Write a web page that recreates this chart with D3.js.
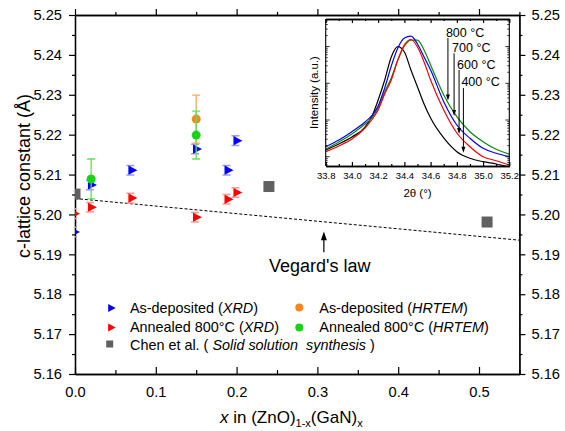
<!DOCTYPE html>
<html>
<head>
<meta charset="utf-8">
<script src="https://cdn.jsdelivr.net/npm/d3@7"></script>
<style>
  body { margin: 0; background: #fff; }
  svg text { font-family: "Liberation Sans", Arial, sans-serif; }
</style>
</head>
<body>
<svg id="chart" width="565" height="431"></svg>
<script>
// --- main panel data: x in (ZnO)1-x(GaN)x vs c-lattice constant (Å)
const asDepXrdX = [0, 0.021, 0.071, 0.151, 0.19, 0.201];
const asDepXrdC = [5.1956, 5.2074, 5.2111, 5.2164, 5.2111, 5.2185];
const annXrdX = [0, 0.021, 0.071, 0.151, 0.19, 0.201];
const annXrdC = [5.2002, 5.2018, 5.2041, 5.1993, 5.2038, 5.2055];
const xrdErr = 0.0012;

const asDepTemX = [0.15];
const asDepTemC = [5.2239];
const asDepTemErr = [0.006];
const annTemX = [0.02, 0.15];
const annTemC = [5.2089, 5.2199];
const annTemErr = [0.005, 0.006];

const chenX = [0, 0.24, 0.51];
const chenC = [5.2051, 5.2070, 5.1981];

const vegardX = [0, 1];
const vegardC = [5.204, 5.185];

const xMajor = [0, 0.1, 0.2, 0.3, 0.4, 0.5];
const xMinor = [0.05, 0.15, 0.25, 0.35, 0.45, 0.55];
const yMajor = [5.16, 5.17, 5.18, 5.19, 5.20, 5.21, 5.22, 5.23, 5.24, 5.25];
const yMinor = [5.165, 5.175, 5.185, 5.195, 5.205, 5.215, 5.225, 5.235, 5.245];

// --- inset data: 2θ (°) vs intensity (a.u., log)
const twoTheta = [33.8, 33.9, 34.0, 34.1, 34.15, 34.2, 34.25, 34.3, 34.35, 34.4,
                  34.45, 34.5, 34.55, 34.6, 34.7, 34.8, 34.9, 35.0, 35.1, 35.2];
const int400 = [15.2, 22.2, 34.4, 64.4, 121, 351, 1230, 5210, 9930, 7130,
                2300, 793, 273, 113, 32.4, 13.7, 9.04, 7.31, 6.32, 5.24];
const int600 = [13.7, 19.6, 30.3, 60.5, 100, 187, 511, 1230, 4310, 11100,
                15600, 9750, 3810, 1230, 187, 44.3, 18.7, 10, 7.78, 5.94];
const int700 = [18.7, 28.5, 48.0, 88.3, 129, 241, 745, 2960, 9160, 17100,
                19400, 11800, 5210, 2300, 315, 73.1, 31.7, 16.9, 12.4, 10];
const int800 = [16.2, 25.2, 41.6, 77.8, 113, 212, 579, 1390, 4310, 10400,
                15100, 15100, 8070, 3150, 480, 123, 48.0, 25.7, 15.9, 11.8];
const insetTicks = [33.8, 34.0, 34.2, 34.4, 34.6, 34.8, 35.0, 35.2];
const insetMinor = [33.9, 34.1, 34.3, 34.5, 34.7, 34.9, 35.1];

// annotation arrows: label, 2θ, start intensity, tip intensity
const annLabels = ['800 °C', '700 °C', '600 °C', '400 °C'];
const annTheta = [34.732, 34.779, 34.817, 34.850];
const annStart = [17100, 6560, 2300, 745];
const annTip = [340, 129, 41.6, 12.9];

const svg = d3.select('#chart');
const FONT = 14.7;

const x = d3.scaleLinear().domain([0, 0.55]).range([75, 519.4]);
const y = d3.scaleLinear().domain([5.16, 5.25]).range([374, 15]);

svg.append('defs').append('clipPath').attr('id', 'plotClip')
  .append('rect')
  .attr('x', x(0)).attr('y', y(5.25))
  .attr('width', x(0.55) - x(0)).attr('height', y(5.16) - y(5.25));

const styleAxis = (g, size) => {
  g.attr('font-family', null).attr('font-size', null);
  g.selectAll('text').attr('font-size', size).attr('fill', '#000');
  g.selectAll('line').attr('stroke', '#000').attr('stroke-width', 1.2);
  g.select('.domain').attr('stroke', '#000').attr('stroke-width', 1.3);
};

// axes
svg.append('g').attr('transform', `translate(0,${y(5.16)})`)
  .call(d3.axisBottom(x).tickValues(xMajor).tickSize(-7).tickSizeOuter(0).tickPadding(13).tickFormat(d3.format('.1f')))
  .call(g => styleAxis(g, FONT));
svg.append('g').attr('transform', `translate(0,${y(5.16)})`)
  .call(d3.axisBottom(x).tickValues(xMinor).tickSize(-4).tickSizeOuter(0).tickFormat(''))
  .call(g => styleAxis(g, FONT));
svg.append('g').attr('transform', `translate(0,${y(5.25)})`)
  .call(d3.axisTop(x).tickValues(xMajor).tickSize(6).tickSizeOuter(0).tickFormat(''))
  .call(g => styleAxis(g, FONT));
svg.append('g').attr('transform', `translate(0,${y(5.25)})`)
  .call(d3.axisTop(x).tickValues(xMinor).tickSize(3).tickSizeOuter(0).tickFormat(''))
  .call(g => styleAxis(g, FONT));
svg.append('g').attr('transform', `translate(${x(0)},0)`)
  .call(d3.axisLeft(y).tickValues(yMajor).tickSize(6).tickSizeOuter(0).tickPadding(7).tickFormat(d3.format('.2f')))
  .call(g => styleAxis(g, FONT));
svg.append('g').attr('transform', `translate(${x(0)},0)`)
  .call(d3.axisLeft(y).tickValues(yMinor).tickSize(3).tickSizeOuter(0).tickFormat(''))
  .call(g => styleAxis(g, FONT));
svg.append('g').attr('transform', `translate(${x(0.55)},0)`)
  .call(d3.axisRight(y).tickValues(yMajor).tickSize(6).tickSizeOuter(0).tickPadding(6).tickFormat(d3.format('.2f')))
  .call(g => styleAxis(g, FONT));
svg.append('g').attr('transform', `translate(${x(0.55)},0)`)
  .call(d3.axisRight(y).tickValues(yMinor).tickSize(3).tickSizeOuter(0).tickFormat(''))
  .call(g => styleAxis(g, FONT));

// axis titles
svg.append('text')
  .attr('transform', 'translate(30,176) rotate(-90)')
  .attr('text-anchor', 'middle')
  .attr('font-size', 18)
  .text('c-lattice constant (Å)');

const xt = svg.append('text').attr('x', 220).attr('y', 423).attr('font-size', 17);
xt.append('tspan').attr('font-style', 'italic').text('x');
xt.append('tspan').text(' in (ZnO)');
xt.append('tspan').attr('font-size', 11).attr('dy', 4).text('1-x');
xt.append('tspan').attr('dy', -4).text('(GaN)');
xt.append('tspan').attr('font-size', 11).attr('dy', 4).text('x');

// plot layer
const plot = svg.append('g').attr('clip-path', 'url(#plotClip)');

// Vegard's law line
plot.append('path')
  .datum(vegardX.map((v, i) => [v, vegardC[i]]))
  .attr('d', d3.line().x(d => x(d[0])).y(d => y(d[1])))
  .attr('fill', 'none')
  .attr('stroke', '#000')
  .attr('stroke-width', 1)
  .attr('stroke-dasharray', '3,2');

// Chen et al. squares
plot.selectAll('.chen')
  .data(chenX.map((v, i) => [v, chenC[i]]))
  .join('rect')
  .attr('x', d => x(d[0]) - 5.5).attr('y', d => y(d[1]) - 5.5)
  .attr('width', 11).attr('height', 11)
  .attr('fill', '#606060');

// XRD triangles with small error bars
const tri = 'M-4,-4.6L-4,4.6L5,0Z';
const drawXrd = (xs, cs, color, light) => {
  const pts = xs.map((v, i) => [v, cs[i]]);
  const eb = plot.append('g');
  pts.forEach(d => {
    const cx = x(d[0]) - 2;
    eb.append('line').attr('x1', cx).attr('x2', cx)
      .attr('y1', y(d[1] - xrdErr)).attr('y2', y(d[1] + xrdErr))
      .attr('stroke', light).attr('stroke-width', 1.5);
    [d[1] - xrdErr, d[1] + xrdErr].forEach(e => {
      eb.append('line').attr('x1', cx - 4).attr('x2', cx + 4)
        .attr('y1', y(e)).attr('y2', y(e))
        .attr('stroke', light).attr('stroke-width', 1.5);
    });
  });
  plot.append('g').selectAll('path')
    .data(pts)
    .join('path')
    .attr('d', tri)
    .attr('transform', d => `translate(${x(d[0])},${y(d[1])})`)
    .attr('fill', color);
};
drawXrd(asDepXrdX, asDepXrdC, '#0000ff', '#9a9aff');
drawXrd(annXrdX, annXrdC, '#ff0000', '#ff9a9a');

// HRTEM circles with error bars
const drawTem = (xs, cs, errs, color, light) => {
  xs.forEach((v, i) => {
    const cx = x(v);
    plot.append('line').attr('x1', cx).attr('x2', cx)
      .attr('y1', y(cs[i] - errs[i])).attr('y2', y(cs[i] + errs[i]))
      .attr('stroke', light).attr('stroke-width', 1.3);
    [cs[i] - errs[i], cs[i] + errs[i]].forEach(e => {
      plot.append('line').attr('x1', cx - 4).attr('x2', cx + 4)
        .attr('y1', y(e)).attr('y2', y(e))
        .attr('stroke', light).attr('stroke-width', 1.3);
    });
  });
  plot.append('g').selectAll('circle')
    .data(xs.map((v, i) => [v, cs[i]]))
    .join('circle')
    .attr('cx', d => x(d[0])).attr('cy', d => y(d[1]))
    .attr('r', 4.5)
    .attr('fill', color);
};
drawTem(asDepTemX, asDepTemC, asDepTemErr, '#f7861c', '#f6a95c');
drawTem(annTemX, annTemC, annTemErr, '#18d418', '#5ee05e');

// Vegard's law arrow + label
const arrX = 0.308;
svg.append('line')
  .attr('x1', x(arrX)).attr('x2', x(arrX))
  .attr('y1', y(5.1905)).attr('y2', y(5.1945))
  .attr('stroke', '#000').attr('stroke-width', 1.2);
svg.append('path')
  .attr('d', `M${x(arrX)},${y(5.1957)}L${x(arrX) - 3},${y(5.1935)}L${x(arrX) + 3},${y(5.1935)}Z`)
  .attr('fill', '#000');
svg.append('text')
  .attr('x', x(0.303)).attr('y', y(5.1856))
  .attr('text-anchor', 'middle')
  .attr('font-size', 18)
  .text("Vegard's law");

// legend
const legend = svg.append('g').attr('font-size', 14.4);
const legendRows = [
  { mx: 111.7, my: 308, tx: 130, ty: 312.5, shape: 'tri', color: '#0000ff', parts: ['As-deposited (', 'XRD', ')'] },
  { mx: 111.7, my: 327.5, tx: 130, ty: 332, shape: 'tri', color: '#ff0000', parts: ['Annealed 800°C (', 'XRD', ')'] },
  { mx: 109.7, my: 344, tx: 130, ty: 349.5, shape: 'sq', color: '#606060', parts: ['Chen et al. ( ', 'Solid solution  synthesis', ' )'] },
  { mx: 299.3, my: 307.5, tx: 319.3, ty: 312.5, shape: 'circ', color: '#f7861c', parts: ['As-deposited (', 'HRTEM', ')'] },
  { mx: 299.3, my: 327.5, tx: 319.3, ty: 332, shape: 'circ', color: '#18d418', parts: ['Annealed 800°C (', 'HRTEM', ')'] }
];
legendRows.forEach(r => {
  if (r.shape === 'tri') {
    legend.append('path').attr('d', 'M-3.5,-4L-3.5,4L4,0Z')
      .attr('transform', `translate(${r.mx},${r.my})`).attr('fill', r.color);
  } else if (r.shape === 'sq') {
    legend.append('rect').attr('x', r.mx - 3.5).attr('y', r.my - 3.5)
      .attr('width', 7).attr('height', 7).attr('fill', r.color);
  } else {
    legend.append('circle').attr('cx', r.mx).attr('cy', r.my).attr('r', 4).attr('fill', r.color);
  }
  const t = legend.append('text').attr('x', r.tx).attr('y', r.ty).style('white-space', 'pre');
  t.append('tspan').text(r.parts[0]);
  t.append('tspan').attr('font-style', 'italic').text(r.parts[1]);
  t.append('tspan').text(r.parts[2]);
});

// ---------------- inset ----------------
const ix = d3.scaleLinear().domain([33.8, 35.2]).range([325.7, 509.3]);
const iy = d3.scaleLog().domain([5.58, 56500]).range([166, 19]);
const inset = svg.append('g');

inset.append('rect')
  .attr('x', ix(33.8)).attr('y', iy(56500))
  .attr('width', ix(35.2) - ix(33.8)).attr('height', iy(5.58) - iy(56500))
  .attr('fill', '#fff');

svg.select('defs').append('clipPath').attr('id', 'insetClip')
  .append('rect')
  .attr('x', ix(33.8)).attr('y', iy(56500))
  .attr('width', ix(35.2) - ix(33.8)).attr('height', iy(5.58) - iy(56500));

const curves = [
  { vals: int400, color: '#000000' },
  { vals: int800, color: '#0a8a0a' },
  { vals: int700, color: '#0000ff' },
  { vals: int600, color: '#ff0000' }
];
const line = d3.line().x(d => ix(d[0])).y(d => iy(d[1])).curve(d3.curveMonotoneX);
const curveG = inset.append('g').attr('clip-path', 'url(#insetClip)');
curves.forEach(c => {
  curveG.append('path')
    .datum(twoTheta.map((t, i) => [t, c.vals[i]]))
    .attr('d', line)
    .attr('fill', 'none')
    .attr('stroke', c.color)
    .attr('stroke-width', 1.2);
});

const styleInset = g => styleAxis(g, 9.5);
inset.append('g').attr('transform', `translate(0,${iy(5.58)})`)
  .call(d3.axisBottom(ix).tickValues(insetTicks).tickSize(-4).tickSizeOuter(0).tickPadding(6).tickFormat(d3.format('.1f')))
  .call(styleInset);
inset.append('g').attr('transform', `translate(0,${iy(5.58)})`)
  .call(d3.axisBottom(ix).tickValues(insetMinor).tickSize(-2).tickSizeOuter(0).tickFormat(''))
  .call(styleInset);
inset.append('g').attr('transform', `translate(0,${iy(56500)})`)
  .call(d3.axisTop(ix).tickValues(insetTicks).tickSize(-4).tickSizeOuter(0).tickFormat(''))
  .call(styleInset);
inset.append('g').attr('transform', `translate(0,${iy(56500)})`)
  .call(d3.axisTop(ix).tickValues(insetMinor).tickSize(-2).tickSizeOuter(0).tickFormat(''))
  .call(styleInset);

const logTicks = iy.ticks();
const isDecade = v => Math.abs(Math.log10(v) - Math.round(Math.log10(v))) < 1e-6;
[ix(33.8), ix(35.2)].forEach((ax, k) => {
  const dir = k === 0 ? 1 : -1;
  inset.append('g').selectAll('line')
    .data(logTicks)
    .join('line')
    .attr('x1', ax).attr('x2', d => ax + dir * (isDecade(d) ? 4 : 2))
    .attr('y1', d => iy(d)).attr('y2', d => iy(d))
    .attr('stroke', '#000').attr('stroke-width', 0.8);
  inset.append('line')
    .attr('x1', ax).attr('x2', ax)
    .attr('y1', iy(5.58)).attr('y2', iy(56500))
    .attr('stroke', '#000').attr('stroke-width', 1.1);
});

inset.append('text')
  .attr('transform', `translate(318,${(iy(5.58) + iy(56500)) / 2}) rotate(-90)`)
  .attr('text-anchor', 'middle')
  .attr('font-size', 11.5)
  .text('Intensity (a.u.)');
inset.append('text')
  .attr('x', ix(34.5)).attr('y', 197)
  .attr('text-anchor', 'middle')
  .attr('font-size', 11.5)
  .text('2θ (°)');

// annotation arrows in inset
annLabels.forEach((lab, i) => {
  const ax = ix(annTheta[i]);
  inset.append('line')
    .attr('x1', ax).attr('x2', ax)
    .attr('y1', iy(annStart[i])).attr('y2', iy(annTip[i]) - 5)
    .attr('stroke', '#000').attr('stroke-width', 1);
  inset.append('path')
    .attr('d', `M${ax},${iy(annTip[i])}L${ax - 2},${iy(annTip[i]) - 6}L${ax + 2},${iy(annTip[i]) - 6}Z`)
    .attr('fill', '#000');
  inset.append('text')
    .attr('x', ax - 2).attr('y', iy(annStart[i]) - 1.5)
    .attr('font-size', 12.5)
    .text(lab);
});
</script>
</body>
</html>
